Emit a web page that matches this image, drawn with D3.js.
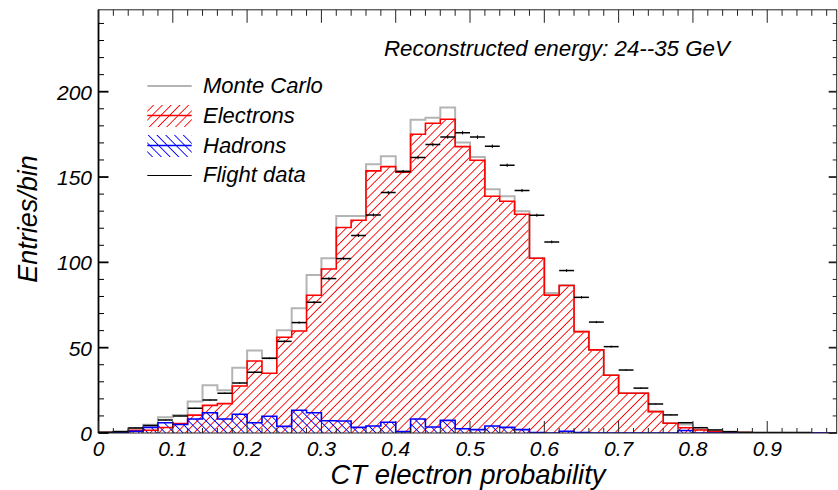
<!DOCTYPE html>
<html><head><meta charset="utf-8">
<script src="https://cdn.jsdelivr.net/npm/d3@7"></script>
<style>
body{margin:0;background:#fff}
svg{display:block}
text{font-family:"Liberation Sans",Arimo,Arial,sans-serif;font-style:italic;fill:#000}
</style>
</head><body>
<svg id="c" width="838" height="490"></svg>
<script>
// ---- data ----
const binWidth = 0.02;
const binStarts = d3.range(50).map(i => +(i * binWidth).toFixed(2));
const monteCarlo = [0.3,1,2.9,4.9,9.2,10.5,18.4,28,25,38.3,48.3,43.8,60.2,73.1,92.6,102.4,127.2,127.2,157.5,162.2,
  153.6,183.5,184.8,190.7,170.2,161.8,142.8,138.7,129.9,102.6,82.1,86.6,59.4,48.7,34,23.4,23.4,12.6,5.8,5,
  2,0.9,0.5,0.2,0,0,0,0,0,0];
const electrons = [0.2,0.5,1.6,1.6,3.2,5.5,10.5,16.2,17.2,27.5,42.2,35,56.1,59.8,80.7,96.1,120.4,124.7,153.6,156.1,
  152.8,175.1,181.5,183.9,167.8,159.8,138.7,135.8,128.2,102.4,80.8,86.4,59.4,48.7,33.8,23.3,23.3,12.5,5.7,3.1,
  1.8,0.8,0.5,0.2,0,0,0,0,0,0];
const hadrons = [0,0.5,1,3.3,6,5,8.2,11.9,8.2,11,6,9.8,3.9,13.3,11.9,7.2,7,3.3,4.1,6.3,
  0.8,8.2,3.5,7.4,2.5,2,4.1,3.3,2,0.2,0,1,0.3,0,0,0,0,0,0,1.5,
  0,0,0,0,0,0,0,0,0,0];
const flightData = [0.4,0.8,2.9,4.4,7.6,10,14.5,19.3,23.3,29.3,35.6,43.8,53.7,64.7,76.6,90.5,102.2,115.7,127.8,140.9,
  153.2,161.4,169,173.5,176,173.4,168,156.9,142.1,127.6,112,95.2,79.5,65,50.6,36.9,26.3,17,10.6,6,
  3.1,1.8,0.8,0.4,0.3,0.3,0.3,0.3,0,0];
const xTickValues = [0,0.1,0.2,0.3,0.4,0.5,0.6,0.7,0.8,0.9];
const yTickValues = [0,50,100,150,200];
const legendLabels = ["Monte Carlo","Electrons","Hadrons","Flight data"];
const titleText = "Reconstructed energy: 24--35 GeV";
const xTitle = "CT electron probability";
const yTitle = "Entries/bin";
const xMax = 0.9935, yMax = 248;

// ---- layout ----
const svg = d3.select("#c");
const L = 98.5, R = 836.7, T = 9.8, B = 433;
const x = d3.scaleLinear().domain([0, xMax]).range([L, R]);
const y = d3.scaleLinear().domain([0, yMax]).range([B, T]);

const defs = svg.append("defs");
defs.append("clipPath").attr("id","clip").append("rect")
  .attr("x", L).attr("y", T).attr("width", R - L).attr("height", B - T);
function hatch(id, color, angle, gap){
  const p = defs.append("pattern").attr("id", id).attr("patternUnits","userSpaceOnUse")
    .attr("width", gap).attr("height", gap).attr("patternTransform", `rotate(${angle})`);
  p.append("line").attr("x1", gap/2).attr("x2", gap/2).attr("y1", -1).attr("y2", gap+1)
    .style("stroke", color).style("stroke-width", "0.9px");
}
hatch("hatchR", "#ff0000", 45, 6.2);
hatch("hatchB", "#0000ff", -45, 6.2);

const g = svg.append("g").attr("clip-path","url(#clip)");

function stepPts(vals){
  const pts = [[0,0]];
  vals.forEach((v,i)=>{ pts.push([binStarts[i], v]); pts.push([binStarts[i]+binWidth, v]); });
  pts.push([binStarts[vals.length-1]+binWidth, 0]);
  return pts;
}
const line = d3.line().x(d=>x(d[0])).y(d=>y(d[1]));
const area = d3.area().x(d=>x(d[0])).y0(y(0)).y1(d=>y(d[1]));

g.append("path").attr("d", area(stepPts(electrons))).attr("fill","url(#hatchR)");
g.append("path").attr("d", area(stepPts(hadrons))).attr("fill","url(#hatchB)");
g.append("path").attr("d", line(stepPts(monteCarlo))).attr("fill","none").attr("stroke","#b4b4b4").attr("stroke-width",2);
g.append("path").attr("d", line(stepPts(electrons))).attr("fill","none").attr("stroke","#ff0000").attr("stroke-width",1.6);
g.append("path").attr("d", line(stepPts(hadrons))).attr("fill","none").attr("stroke","#0000ff").attr("stroke-width",1.6);

// flight data
const fd = g.append("g");
flightData.forEach((v,i)=>{
  if (v <= 0) return;
  fd.append("line").attr("x1", x(binStarts[i])).attr("x2", x(binStarts[i]+binWidth))
    .attr("y1", y(v)).attr("y2", y(v)).attr("stroke","#000").attr("stroke-width",1.5);
  const e = Math.sqrt(v) * 0.08;
  fd.append("line").attr("x1", x(binStarts[i]+binWidth/2)).attr("x2", x(binStarts[i]+binWidth/2))
    .attr("y1", y(v+e)).attr("y2", y(Math.max(0,v-e))).attr("stroke","#000").attr("stroke-width",1);
});

// ---- frame and ticks ----
const ax = svg.append("g");
ax.append("rect").attr("x",L).attr("y",T).attr("width",R-L).attr("height",B-T)
  .attr("fill","none").attr("stroke","#222").attr("stroke-width",1);
ax.append("line").attr("x1",L).attr("x2",L).attr("y1",T).attr("y2",B).attr("stroke","#000").attr("stroke-width",1.8);

const xMinor = d3.range(0, 50).map(i => i*0.02).filter(v => v <= xMax);
xMinor.forEach(v=>{
  const major = Math.abs(v*10 - Math.round(v*10)) < 1e-6;
  const X = x(v);
  ax.append("line").attr("x1",X).attr("x2",X).attr("y1",B).attr("y2",B-(major?12:5)).attr("stroke","#222").attr("stroke-width",1);
  ax.append("line").attr("x1",X).attr("x2",X).attr("y1",T).attr("y2",T+(major?13:6)).attr("stroke","#222").attr("stroke-width",1);
});
const yMinor = d3.range(0, 25).map(i => i*10).filter(v => v <= yMax);
yMinor.forEach(v=>{
  const major = v % 50 === 0;
  const Y = y(v);
  ax.append("line").attr("x1",L).attr("x2",L+(major?10:5.5)).attr("y1",Y).attr("y2",Y).attr("stroke","#000").attr("stroke-width",major?1.8:1);
  ax.append("line").attr("x1",R).attr("x2",R-(major?8:4)).attr("y1",Y).attr("y2",Y).attr("stroke","#222").attr("stroke-width",major?1.8:1);
});

xTickValues.forEach(v=>{
  ax.append("text").attr("x", x(v)).attr("y", 456).attr("text-anchor","middle")
    .style("font-size","21px").text(v === 0 ? "0" : d3.format(".1f")(v));
});
yTickValues.forEach(v=>{
  ax.append("text").attr("x", 92).attr("y", y(v)+8).attr("text-anchor","end")
    .style("font-size","21px").text(v);
});

svg.append("text").attr("x", 468).attr("y", 484).attr("text-anchor","middle")
  .style("font-size","27.5px").text(xTitle);
svg.append("text").attr("transform","translate(37,219) rotate(-90)").attr("text-anchor","middle")
  .style("font-size","27px").text(yTitle);
svg.append("text").attr("x", 384).attr("y", 55.5).style("font-size","22.3px").text(titleText);

// ---- legend ----
const lg = svg.append("g");
const lx0 = 147.3, lx1 = 191.7, tx = 203;
const rows = [93, 123, 153, 182];
lg.append("line").attr("x1",lx0).attr("x2",lx1).attr("y1",rows[0]-7).attr("y2",rows[0]-7).attr("stroke","#b4b4b4").attr("stroke-width",2);
lg.append("rect").attr("x",lx0).attr("y",rows[1]-18).attr("width",lx1-lx0).attr("height",22).attr("fill","url(#hatchR)");
lg.append("line").attr("x1",lx0).attr("x2",lx1).attr("y1",rows[1]-7.5).attr("y2",rows[1]-7.5).attr("stroke","#ff0000").attr("stroke-width",1.6);
lg.append("rect").attr("x",lx0).attr("y",rows[2]-18).attr("width",lx1-lx0).attr("height",22).attr("fill","url(#hatchB)");
lg.append("line").attr("x1",lx0).attr("x2",lx1).attr("y1",rows[2]-7.5).attr("y2",rows[2]-7.5).attr("stroke","#0000ff").attr("stroke-width",1.6);
lg.append("line").attr("x1",lx0).attr("x2",lx1).attr("y1",rows[3]-6.5).attr("y2",rows[3]-6.5).attr("stroke","#000").attr("stroke-width",1.2);
legendLabels.forEach((t,i)=>{
  lg.append("text").attr("x",tx).attr("y",rows[i]).style("font-size","22px").text(t);
});
</script>
</body></html>
